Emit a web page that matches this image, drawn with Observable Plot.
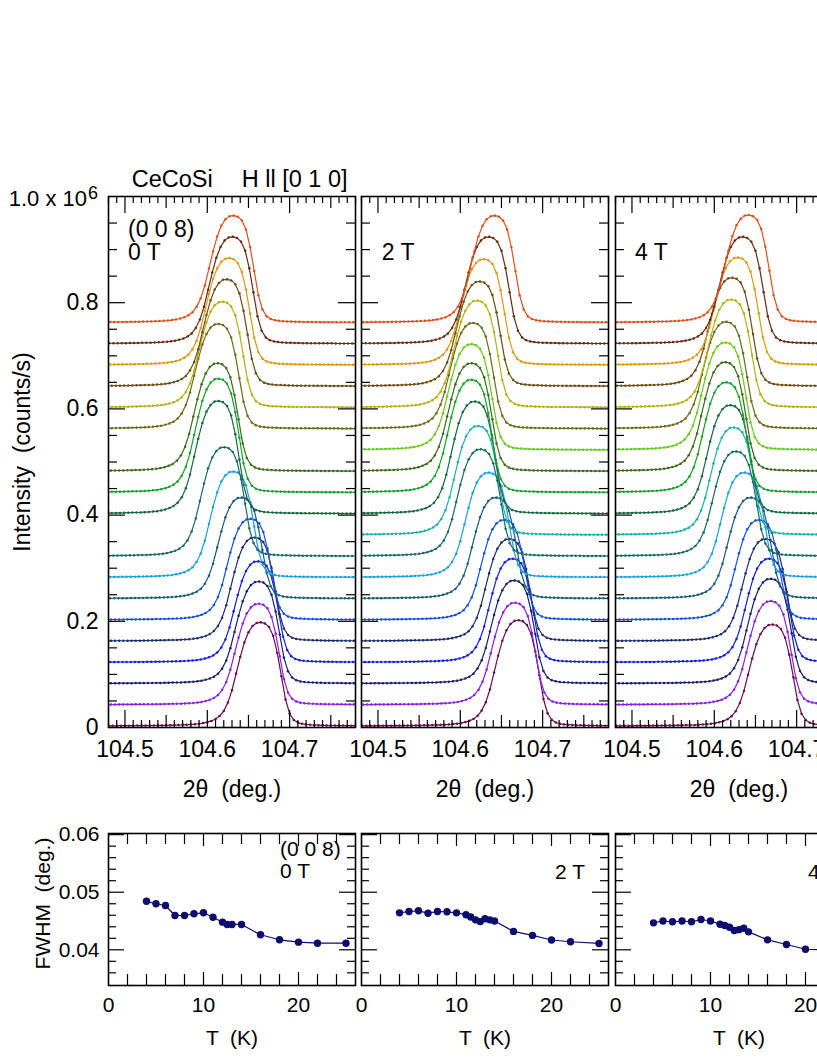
<!DOCTYPE html>
<html><head><meta charset="utf-8">
<script src="https://cdn.jsdelivr.net/npm/d3@7"></script>
<script src="https://cdn.jsdelivr.net/npm/@observablehq/plot@0.6"></script>
<style>
body{margin:0;background:#fff;}
#fig{position:relative;width:817px;height:1058px;overflow:hidden;background:#fff;font-family:"Liberation Sans",Arial,Helvetica,sans-serif;color:#000;}
#fig svg{position:absolute;}
.lbl{position:absolute;white-space:nowrap;line-height:0;}
</style></head><body><div id="fig"></div><script>
// ---------------- DATA ----------------
// scan colours, index k = 0 (bottom scan) ... 19 (top scan)
const curveColors = ["#6e0a50","#8a1ee6","#1a206e","#1420e0","#1a2e6e","#1450e0","#1a5a7a","#1aa0e0","#186a6a","#1ab0b0",
                     "#146a3a","#14a02a","#3c6a1a","#66cc14","#6e6a18","#b4b014","#6e4c12","#e0960f","#6b2a12","#e0501a"];
const offsetStep = 0.04;   // vertical shift between scans (10^6 counts/s)
const baseLevel = 0.003;   // background level (10^6 counts/s)
const profileStep = 0.005; // 2θ step of the scan (deg.)
// normalised (0 0 8) peak profile, centre at index 40
const profileShape = [0.000,0.000,0.001,0.001,0.001,0.001,0.002,0.002,0.002,0.002,
  0.003,0.003,0.003,0.004,0.004,0.005,0.005,0.006,0.007,0.008,
  0.009,0.010,0.012,0.014,0.017,0.021,0.027,0.036,0.048,0.066,
  0.095,0.145,0.225,0.345,0.505,0.665,0.805,0.905,0.965,0.995,
  1.000,0.990,0.955,0.870,0.705,0.480,0.255,0.120,0.058,0.032,
  0.020,0.014,0.011,0.009,0.007,0.006,0.005,0.004,0.004,0.003,
  0.003,0.002,0.002,0.002,0.002,0.001,0.001,0.001,0.001,0.001,
  0.000,0.000,0.000,0.000,0.000,0.000,0.000,0.000,0.000];
// 0 T
const scanIdx0T = [0,1,2,3,4,5,6,7,8,10,11,12,14,15,16,17,18,19];
const peakPos0T = [104.665,104.663,104.663,104.662,104.658,104.653,104.642,104.632,104.621,104.614,104.614,104.613,104.614,104.619,104.624,104.627,104.631,104.632];
const peakHeight0T = [0.195,0.190,0.192,0.190,0.195,0.190,0.190,0.199,0.205,0.212,0.214,0.203,0.197,0.199,0.201,0.201,0.201,0.201];
// 2 T
const scanIdx2T = [0,1,2,3,4,5,6,7,8,9,10,11,12,13,14,15,16,17,18,19];
const peakPos2T = [104.671,104.667,104.666,104.664,104.660,104.654,104.644,104.635,104.625,104.622,104.618,104.614,104.614,104.614,104.616,104.621,104.624,104.629,104.635,104.642];
const peakHeight2T = [0.199,0.192,0.194,0.195,0.192,0.188,0.190,0.197,0.201,0.205,0.211,0.212,0.203,0.199,0.199,0.201,0.197,0.199,0.201,0.201];
// 4 T
const scanIdx4T = [0,1,2,3,4,5,6,7,8,9,10,11,12,13,14,15,16,17,18,19];
const peakPos4T = [104.671,104.669,104.669,104.667,104.663,104.655,104.645,104.637,104.627,104.624,104.620,104.615,104.614,104.614,104.615,104.621,104.622,104.629,104.635,104.642];
const peakHeight4T = [0.191,0.195,0.197,0.195,0.192,0.188,0.190,0.197,0.197,0.202,0.204,0.207,0.205,0.202,0.201,0.203,0.204,0.202,0.201,0.202];
// FWHM vs T
const temp0T = [4,5,6,7,8,9,10,11,12,12.5,13,14,16,18,20,22,25];
const fwhm0T = [0.04844,0.04799,0.04769,0.04596,0.04596,0.04625,0.04643,0.04566,0.04480,0.04440,0.04440,0.04440,0.04261,0.04174,0.04133,0.04115,0.04115];
const temp2T = [4,5,6,7,8,9,10,11,11.5,12,12.5,13,13.5,14,16,18,20,22,25];
const fwhm2T = [0.04642,0.04665,0.04677,0.04636,0.04665,0.04660,0.04642,0.04610,0.04570,0.04520,0.04490,0.04540,0.04520,0.04500,0.04320,0.04250,0.04170,0.04140,0.04110];
const temp4T = [4,5,6,7,8,9,10,11,11.5,12,12.5,13,13.5,14,16,18,20,22,25];
const fwhm4T = [0.04468,0.04500,0.04486,0.04500,0.04486,0.04526,0.04500,0.04445,0.04422,0.04393,0.04335,0.04350,0.04375,0.04312,0.04173,0.04092,0.04010,0.04000,0.03980];
// axis ticks
const xTickLabels = [104.5,104.6,104.7];
const yTickLabels = [0,0.2,0.4,0.6,0.8];
const tTickLabels = [0,10,20];
const wTickLabels = [0.04,0.05,0.06];

// ---------------- LAYOUT ----------------
const FONT = '"Liberation Sans", Arial, Helvetica, sans-serif';
const fig = document.getElementById("fig");
const frameLefts = [107.5, 361.3, 615];
const FW = 247;               // frame width
const TOP_T = 196, TOP_H = 531;   // top panels frame
const BOT_T = 833, BOT_H = 152;   // bottom panels frame

function place(svg, left, top) {
  svg.style.left = left + "px"; svg.style.top = top + "px"; fig.appendChild(svg);
}
function label(html, x, baseline, size, align = "left") {
  const d = document.createElement("div");
  d.className = "lbl"; d.style.fontSize = size + "px";
  d.style.top = (baseline - 0.3465 * size) + "px";
  if (align === "right") d.style.right = (817 - x) + "px"; else d.style.left = x + "px";
  d.innerHTML = html; fig.appendChild(d);
}
function ticksX(values, len, H) {
  return [Plot.tickX(values, {insetTop: H - len, stroke: "#000", strokeWidth: 1.2}),
          Plot.tickX(values, {insetBottom: H - len, stroke: "#000", strokeWidth: 1.2})];
}
function ticksY(values, len, W) {
  return [Plot.tickY(values, {insetRight: W - len, stroke: "#000", strokeWidth: 1.2}),
          Plot.tickY(values, {insetLeft: W - len, stroke: "#000", strokeWidth: 1.2})];
}
function scanCurves(idx, pos, h) {
  return idx.map((k, i) => ({
    color: curveColors[k],
    points: profileShape.map((v, j) => ({x: pos[i] + (j - 40) * profileStep, y: k * offsetStep + baseLevel + h[i] * v}))
  }));
}
const svgStyle = {background: "transparent", maxWidth: "none", overflow: "visible", fontFamily: FONT, color: "#000"};

// ---------------- TOP PANELS ----------------
const scans = [
  scanCurves(scanIdx0T, peakPos0T, peakHeight0T),
  scanCurves(scanIdx2T, peakPos2T, peakHeight2T),
  scanCurves(scanIdx4T, peakPos4T, peakHeight4T)
];
const xMinor = d3.range(48, 79).map(i => 104 + i / 100).filter(v => Math.abs(v * 20 - Math.round(v * 20)) > 1e-6);
const xMid = [104.55, 104.65, 104.75];
const yMinor = d3.range(1, 20).map(i => i * 0.05).filter(v => Math.abs(v * 5 - Math.round(v * 5)) > 1e-6);
const yMajor = [0.2, 0.4, 0.6, 0.8];

scans.forEach((curves, p) => {
  const mL = p === 0 ? 108 : 4, mR = 4, mT = 46, mB = 95;
  const marks = [];
  curves.forEach(c => {
    marks.push(Plot.line(c.points, {x: "x", y: "y", stroke: c.color, strokeWidth: 1.2, clip: true}));
    marks.push(Plot.dot(c.points, {x: "x", y: "y", r: 1.25, fill: c.color, stroke: "none", clip: true}));
  });
  marks.push(...ticksX(xMinor, 7, TOP_H), ...ticksX(xMid, 12, TOP_H), ...ticksX(xTickLabels, 17, TOP_H));
  marks.push(...ticksY(yMinor, 9, FW), ...ticksY(yMajor, 17, FW));
  marks.push(Plot.frame({stroke: "#000", strokeWidth: 1.6}));
  marks.push(Plot.axisX(xTickLabels, {tickSize: 0, tickPadding: 13, tickFormat: d3.format(".1f"), fontSize: 23, label: null}));
  if (p === 0) {
    marks.push(Plot.axisY(yTickLabels, {tickSize: 0, tickPadding: 10, tickFormat: d => d === 0 ? "0" : d.toFixed(1), fontSize: 23, label: null}));
    marks.push(Plot.text(["Intensity  (counts/s)"], {text: d => d, frameAnchor: "left", textAnchor: "middle", lineAnchor: "middle", rotate: -90, dx: -86, dy: -10, fontSize: 23}));
  }
  marks.push(Plot.text(["2θ  (deg.)"], {text: d => d, frameAnchor: "bottom", lineAnchor: "middle", dy: 62, fontSize: 23}));
  const svg = Plot.plot({
    width: mL + FW + mR, height: mT + TOP_H + mB,
    marginLeft: mL, marginRight: mR, marginTop: mT, marginBottom: mB,
    x: {domain: [104.48, 104.78], axis: null},
    y: {domain: [0, 1.0], axis: null},
    style: svgStyle,
    marks
  });
  place(svg, frameLefts[p] - mL, TOP_T - mT);
});

// ---------------- BOTTOM PANELS ----------------
const fwhmSets = [[temp0T, fwhm0T], [temp2T, fwhm2T], [temp4T, fwhm4T]];
const tMinor = [2,4,6,8,12,14,16,18,22,24];
const tMajor = [10, 20];
const wMinor = [0.036,0.038,0.042,0.044,0.046,0.048,0.052,0.054,0.056,0.058];
fwhmSets.forEach(([T, W], p) => {
  const mL = p === 0 ? 108 : 4, mR = 4, mT = 15, mB = 73;
  const data = T.map((t, i) => ({t, w: W[i]}));
  const marks = [
    ...ticksX(tMinor, 11, BOT_H), ...ticksX(tMajor, 13, BOT_H),
    ...ticksY(wMinor, 8, FW), ...ticksY(wTickLabels, 16, FW),
    Plot.line(data, {x: "t", y: "w", stroke: "#0d0d6e", strokeWidth: 1.2, clip: true}),
    Plot.dot(data, {x: "t", y: "w", r: 3.7, fill: "#0d0d6e", stroke: "none", clip: true}),
    Plot.frame({stroke: "#000", strokeWidth: 1.6}),
    Plot.axisX(tTickLabels, {tickSize: 0, tickPadding: 12, tickFormat: d => String(d), fontSize: 21, label: null}),
    Plot.text(["T  (K)"], {text: d => d, frameAnchor: "bottom", lineAnchor: "middle", dy: 53, fontSize: 21})
  ];
  if (p === 0) {
    marks.push(Plot.axisY(wTickLabels, {tickSize: 0, tickPadding: 9, tickFormat: d3.format(".2f"), fontSize: 21, label: null}));
    marks.push(Plot.text(["FWHM  (deg.)"], {text: d => d, frameAnchor: "left", textAnchor: "middle", lineAnchor: "middle", rotate: -90, dx: -65, dy: -6, fontSize: 21}));
  }
  const svg = Plot.plot({
    width: mL + FW + mR, height: mT + BOT_H + mB,
    marginLeft: mL, marginRight: mR, marginTop: mT, marginBottom: mB,
    x: {domain: [0, 26], axis: null},
    y: {domain: [0.0338, 0.0602], axis: null},
    style: svgStyle,
    marks
  });
  place(svg, frameLefts[p] - mL, BOT_T - mT);
});

// ---------------- TEXT ----------------
label("CeCoSi", 131.7, 187, 23.5);
label("H ll [0 1 0]", 241.7, 187, 23.5);
label('1.0 x 10<span style="font-size:18px;position:relative;top:-7px;margin-left:1px">6</span>', 98, 206.7, 22, "right");
label("(0 0 8)", 128, 237, 23);
label("0 T", 128, 260, 23);
label("2 T", 381.7, 260, 23);
label("4 T", 635, 260, 23);
label("(0 0 8)", 280, 856, 21);
label("0 T", 280, 878.5, 21);
label("2 T", 555, 879, 21);
label("4 T", 808, 879, 21);
</script></body></html>
